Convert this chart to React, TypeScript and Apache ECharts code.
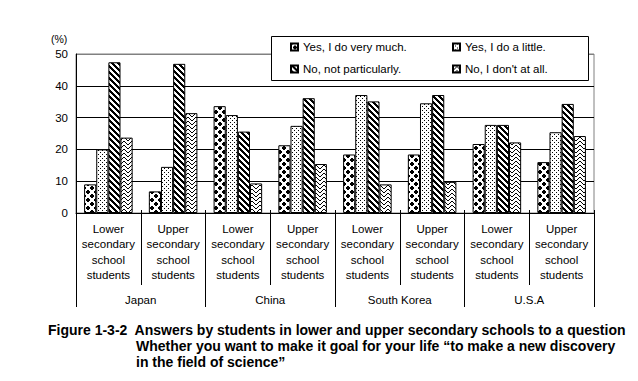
import React, { useEffect, useRef } from "react";
import * as echarts from "echarts";

const categories = [
  "Lower\nsecondary\nschool\nstudents",
  "Upper\nsecondary\nschool\nstudents",
  "Lower\nsecondary\nschool\nstudents",
  "Upper\nsecondary\nschool\nstudents",
  "Lower\nsecondary\nschool\nstudents",
  "Upper\nsecondary\nschool\nstudents",
  "Lower\nsecondary\nschool\nstudents",
  "Upper\nsecondary\nschool\nstudents",
];
const countries = ["Japan", "China", "South Korea", "U.S.A"];
const seriesNames = [
  "Yes, I do very much.",
  "Yes, I do a little.",
  "No, not particularly.",
  "No, I don't at all.",
];
const veryMuch = [9.0, 6.8, 33.6, 21.3, 18.4, 18.4, 21.7, 16.0];
const aLittle = [20.0, 14.5, 30.8, 27.4, 37.1, 34.5, 27.7, 25.4];
const notParticularly = [47.4, 46.9, 25.6, 36.1, 35.1, 37.1, 27.7, 34.3];
const notAtAll = [23.7, 31.4, 9.3, 15.4, 9.0, 9.8, 22.2, 24.2];
const yTicks = [0, 10, 20, 30, 40, 50];
const titleLines = [
  "Figure 1-3-2  Answers by students in lower and upper secondary schools to a question",
  "Whether you want to make it goal for your life \u201cto make a new discovery",
  "in the field of science\u201d",
];

const FONT = '"Liberation Sans", Arial, sans-serif';

function makeTile(w: number, h: number, fn: (x: number, y: number) => boolean) {
  const c = document.createElement("canvas");
  c.width = w;
  c.height = h;
  const ctx = c.getContext("2d")!;
  ctx.fillStyle = "#fff";
  ctx.fillRect(0, 0, w, h);
  ctx.fillStyle = "#000";
  for (let y = 0; y < h; y++) {
    for (let x = 0; x < w; x++) {
      if (fn(x, y)) ctx.fillRect(x, y, 1, 1);
    }
  }
  return c;
}

export default function App() {
  const ref = useRef<HTMLDivElement>(null);
  useEffect(() => {
    if (!ref.current) return;
    const diamonds = makeTile(8, 8, (x, y) => {
      const pts = [[4, 4], [0, 0], [8, 0], [0, 8], [8, 8]];
      return pts.some(([px, py]) => Math.abs(x + 0.5 - px) + Math.abs(y + 0.5 - py) < 3);
    });
    const dots = makeTile(4, 4, (x, y) => (x === 0 && y === 0) || (x === 2 && y === 2));
    const stripes = makeTile(6, 6, (x, y) => (((x - y) % 6) + 6) % 6 < 3);
    const zigzag = makeTile(8, 8, (x, y) =>
      x < 4 ? (x + y) % 4 === 0 : (((x - y) % 4) + 4) % 4 === 3
    );
    const patterns = [diamonds, dots, stripes, zigzag];
    const values = [veryMuch, aLittle, notParticularly, notAtAll];

    const legendText = { fontSize: 11.5, color: "#000", fontFamily: FONT };

    const chart = echarts.init(ref.current, null, { renderer: "svg" });
    chart.setOption({
      animation: false,
      backgroundColor: "#fff",
      textStyle: { fontFamily: FONT },
      grid: {
        left: 76,
        right: 44,
        top: 54,
        bottom: 168,
        show: true,
        borderColor: "#808080",
        borderWidth: 1,
        backgroundColor: "transparent",
      },
      legend: [
        {
          data: [seriesNames[0], seriesNames[2]],
          orient: "vertical",
          left: 290,
          top: 41,
          itemWidth: 7,
          itemHeight: 7,
          itemGap: 10,
          padding: 0,
          z: 20,
          icon: "rect",
          textStyle: legendText,
        },
        {
          data: [seriesNames[1], seriesNames[3]],
          orient: "vertical",
          left: 452,
          top: 41,
          itemWidth: 7,
          itemHeight: 7,
          itemGap: 10,
          padding: 0,
          z: 20,
          icon: "rect",
          textStyle: legendText,
        },
      ],
      xAxis: [
        {
          type: "category",
          data: categories,
          position: "bottom",
          axisLine: { show: true, lineStyle: { color: "#000", width: 1 } },
          axisTick: { show: true, length: 72, interval: 0, lineStyle: { color: "#000" } },
          axisLabel: {
            interval: 0,
            margin: 8,
            fontSize: 11.5,
            lineHeight: 15.5,
            color: "#000",
            fontFamily: FONT,
          },
          splitLine: { show: false },
        },
        {
          type: "category",
          data: countries,
          position: "bottom",
          offset: 72,
          axisLine: { show: false },
          axisTick: { show: true, length: 22, interval: 0, lineStyle: { color: "#000" } },
          axisLabel: { interval: 0, margin: 9, fontSize: 11.5, color: "#000", fontFamily: FONT },
          splitLine: { show: false },
        },
        {
          type: "category",
          data: categories,
          position: "bottom",
          axisLine: { show: false },
          axisTick: {
            show: true,
            inside: true,
            length: 3,
            interval: 0,
            lineStyle: { color: "#000" },
          },
          axisLabel: { show: false },
          splitLine: { show: false },
        },
      ],
      yAxis: {
        type: "value",
        min: yTicks[0],
        max: yTicks[yTicks.length - 1],
        interval: 10,
        axisLine: { show: true, lineStyle: { color: "#000" } },
        axisTick: { show: false },
        axisLabel: { fontSize: 11.5, color: "#000", margin: 8, fontFamily: FONT },
        splitLine: {
          show: true,
          lineStyle: { color: ["#000", "#000", "#000", "#000", "#000", "#808080"], width: 1 },
        },
      },
      series: values.map((v, i) => ({
        name: seriesNames[i],
        type: "bar",
        xAxisIndex: 0,
        data: v,
        barGap: "0%",
        barCategoryGap: "25%",
        itemStyle: {
          color: { image: patterns[i], repeat: "repeat" },
          borderColor: "#000",
          borderWidth: 1,
        },
        emphasis: { disabled: true },
      })),
      graphic: [
        {
          type: "rect",
          z: 10,
          shape: { x: 271.5, y: 36.5, width: 317, height: 44 },
          style: { fill: "#fff", stroke: "#000", lineWidth: 1 },
        },
        {
          type: "text",
          z: 10,
          style: {
            text: "(%)",
            x: 51,
            y: 39,
            font: `10.5px ${FONT}`,
            fill: "#000",
            verticalAlign: "middle",
          },
        },
        ...titleLines.map((t, i) => ({
          type: "text",
          z: 10,
          style: {
            text: t,
            x: i === 0 ? 48 : 136,
            y: 330 + i * 16,
            font: `bold 14px ${FONT}`,
            fill: "#000",
            verticalAlign: "middle",
          },
        })),
      ],
    });
    return () => chart.dispose();
  }, []);
  return (
    <div
      ref={ref}
      style={{ position: "fixed", left: 0, top: 0, width: 638, height: 381 }}
    />
  );
}
